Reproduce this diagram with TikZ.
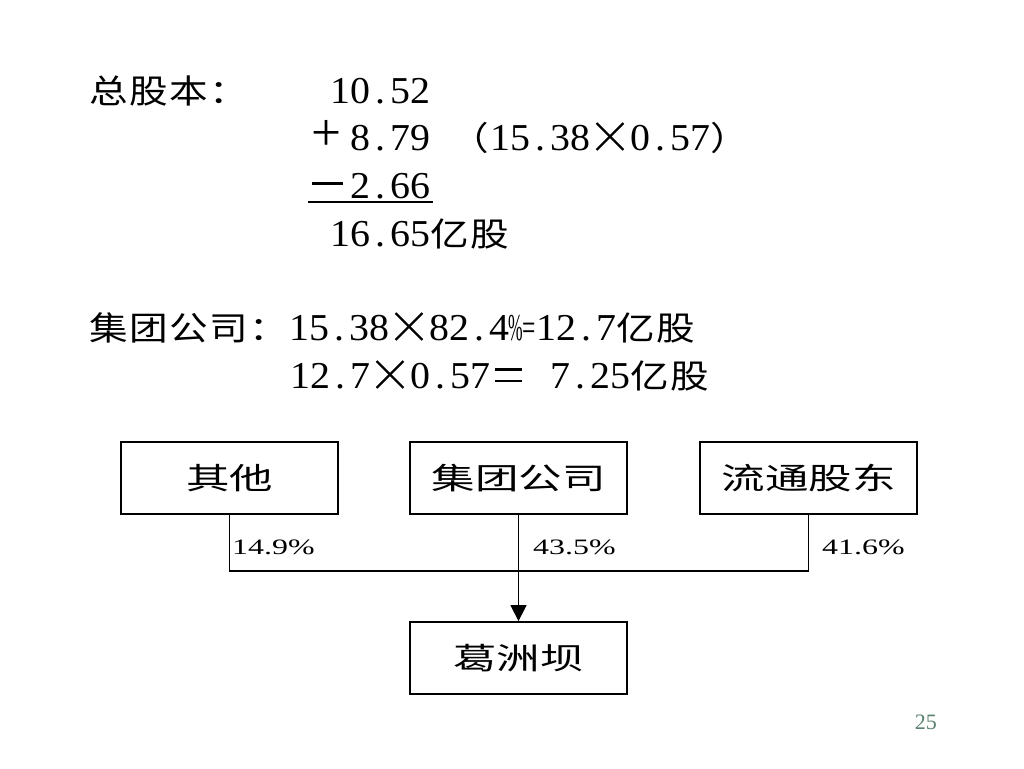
\documentclass[tikz,border=0pt]{standalone}
\usepackage{fontspec}
\usepackage{graphicx}
\usetikzlibrary{arrows.meta}
\newfontfamily\cjk{Noto Sans CJK SC}
\newfontfamily\dig{Liberation Serif}
\definecolor{pagenum}{RGB}{90,130,110}
\newcommand\digf{\fontsize{38}{38}\selectfont\dig}
\newcommand\fw[1]{\makebox[40pt][c]{\scalebox{1.17}[1]{\fontsize{33}{33}\selectfont\cjk #1}}}
\newcommand\hw[1]{\makebox[20pt][c]{\scalebox{1.05}[1]{\digf #1}}}
\def\hws#1{\hwsloop#1\relax}
\def\hwsloop#1{\ifx\relax#1\else\hw{#1}\expandafter\hwsloop\fi}
\newcommand\xbar[1]{\rotatebox[origin=c]{#1}{\rule[-1.1pt]{38pt}{2.2pt}}}
\newcommand\tms{\makebox[40pt][c]{\raisebox{13.5pt}{\rlap{\xbar{45}}\xbar{-45}}}}
\newcommand\plusfw{\makebox[40pt][l]{\hspace{1pt}\scalebox{1.4}{\digf +}}}
\newcommand\minusfw{\makebox[40pt][l]{\hspace{2pt}\rule[13.5pt]{31pt}{2.5pt}}}
\newcommand\eqfw{\makebox[40pt][l]{\hspace{5pt}\rlap{\rule[17.5pt]{27pt}{2.5pt}}\rule[6pt]{27pt}{2.5pt}}}
\newcommand\pcthw{\makebox[14pt][c]{\scalebox{0.46}[1]{\digf\%}}}
\newcommand\eqhw{\makebox[13pt][c]{\scalebox{0.62}[1]{\digf =}}}
\newcommand\boxlabel[1]{\scalebox{1.45}[1]{\fontsize{30}{30}\selectfont\cjk #1}}
\newcommand\pctlabel[1]{\scalebox{1.45}[1]{\fontsize{22}{22}\selectfont\dig #1}}
\begin{document}
\begin{tikzpicture}[x=1pt,y=-1pt,
  txt/.style={anchor=base west,inner sep=0pt,outer sep=0pt},
  orgbox/.style={draw=black,line width=1.8pt,minimum width=217pt,minimum height=72pt,inner sep=0pt},
  link/.style={draw=black,line width=1.4pt},
  pct/.style={anchor=base west,inner sep=0pt}]
\fill[white] (0,0) rectangle (1024,768);
\useasboundingbox (0,0) rectangle (1024,768);
% top calculation
\node[txt] (r1a) at (89,103) {\fw{总}\fw{股}\fw{本}\fw{：}};
\node[txt] (r1b) at (330,103) {\hws{10.52}};
\node[txt] (r2) at (310,150) {\plusfw\hws{8.79}\hspace{20pt}\fw{（}\hws{15.38}\tms\hws{0.57}\fw{）}};
\node[txt] (r3) at (310,198) {\minusfw\hws{2.66}};
\draw[line width=2pt] ([xshift=-2pt,yshift=-4pt]r3.base west) -- ([xshift=3pt,yshift=-4pt]r3.base east);
\node[txt] (r4) at (330,246) {\hws{16.65}\fw{亿}\fw{股}};
\node[txt] (r5) at (89,340) {\fw{集}\fw{团}\fw{公}\fw{司}\fw{：}\hws{15.38}\tms\hws{82.4}\pcthw\eqhw\hws{12.7}\fw{亿}\fw{股}};
\node[txt] (r6) at (290,388) {\hws{12.7}\tms\hws{0.57}\eqfw\hspace{20pt}\hws{7.25}\fw{亿}\fw{股}};
% diagram
\node[orgbox] (oth) at (229.5,478) {\boxlabel{其他}};
\node[orgbox] (grp) at (518.5,478) {\boxlabel{集团公司}};
\node[orgbox] (flt) at (808.5,478) {\boxlabel{流通股东}};
\node[orgbox] (gzb) at (518.5,658) {\boxlabel{葛洲坝}};
\coordinate (join) at (518.5,571);
\draw[link] (oth.south) |- (join) -| (flt.south);
\draw[link,-{Triangle[width=16pt,length=16pt]}] (grp.south) -- (gzb.north);
\node[pct] (p1) at (232,554) {\pctlabel{14.9\%}};
\node[pct] (p2) at (533,554) {\pctlabel{43.5\%}};
\node[pct] (p3) at (822,554) {\pctlabel{41.6\%}};
\node[anchor=base east,inner sep=0pt,text=pagenum,font=\fontsize{22}{22}\selectfont\dig] (pg) at (937,729) {25};
\end{tikzpicture}
\end{document}
